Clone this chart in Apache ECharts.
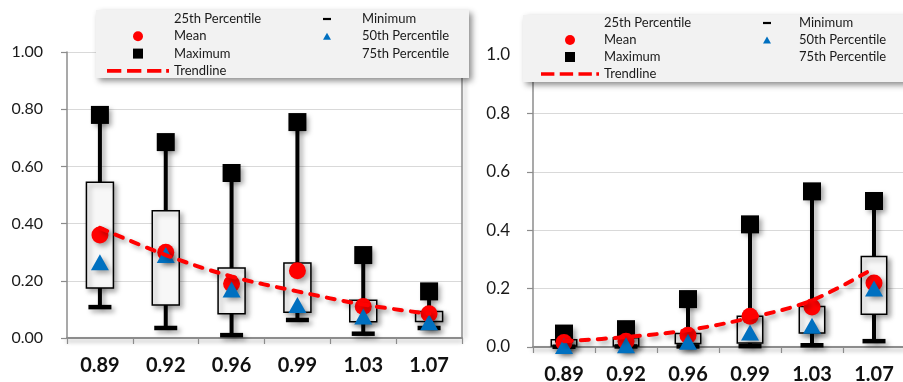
<!DOCTYPE html>
<html>
<head>
<meta charset="utf-8">
<script src="https://cdn.jsdelivr.net/npm/echarts@6/dist/echarts.min.js"></script>
<style>
  html, body { margin: 0; padding: 0; background: #fff; }
  #chart { width: 903px; height: 382px; }
</style>
</head>
<body>
<div id="chart"></div>
<script>
// Shared category labels
const categories = ['0.89', '0.92', '0.96', '0.99', '1.03', '1.07'];

// Left panel statistics
const minA   = [0.108, 0.035, 0.010, 0.063, 0.015, 0.035];
const q1A    = [0.175, 0.115, 0.085, 0.090, 0.057, 0.058];
const medA   = [0.265, 0.290, 0.170, 0.115, 0.075, 0.055];
const q3A    = [0.545, 0.445, 0.245, 0.262, 0.132, 0.093];
const maxA   = [0.780, 0.685, 0.577, 0.755, 0.290, 0.163];
const meanA  = [0.360, 0.300, 0.190, 0.235, 0.110, 0.085];
const trendA = [0.385, 0.290, 0.215, 0.163, 0.117, 0.085];

// Right panel statistics
const minB   = [0.001, 0.002, 0.002, 0.003, 0.006, 0.020];
const q1B    = [0.003, 0.003, 0.012, 0.014, 0.048, 0.112];
const medB   = [0.003, 0.006, 0.018, 0.050, 0.073, 0.200];
const q3B    = [0.025, 0.032, 0.046, 0.105, 0.139, 0.310];
const maxB   = [0.046, 0.061, 0.164, 0.420, 0.533, 0.500];
const meanB  = [0.015, 0.020, 0.040, 0.105, 0.137, 0.219];
const trendB = [0.020, 0.034, 0.058, 0.100, 0.160, 0.270];

const FONT = 'Lato, "Open Sans", sans-serif';
const RED = '#ff0000';
const BLUE = '#0070c0';
const SHADOW = { shadowColor: 'rgba(0,0,0,0.35)', shadowBlur: 5, shadowOffsetX: 3, shadowOffsetY: 3 };

function rows(a, b) { return a.map((v, i) => [i, v, b[i]]); }

// Whisker: vertical stem from minimum to maximum
function renderWhisker(params, api) {
  const lo = api.coord([api.value(0), api.value(1)]);
  const hi = api.coord([api.value(0), api.value(2)]);
  return {
    type: 'line',
    shape: { x1: lo[0], y1: lo[1], x2: hi[0], y2: hi[1] },
    style: Object.assign({ stroke: '#000', lineWidth: 4 }, SHADOW)
  };
}
// Box: interquartile range
function renderBox(params, api) {
  const lo = api.coord([api.value(0), api.value(1)]);
  const hi = api.coord([api.value(0), api.value(2)]);
  const w = api.size([1, 0])[0] * 0.41;
  return {
    type: 'rect',
    shape: { x: lo[0] - w / 2, y: hi[1], width: w, height: lo[1] - hi[1] },
    style: Object.assign({ fill: '#f7f7f7', stroke: '#000', lineWidth: 1.5 }, SHADOW)
  };
}

function marker(color) {
  return Object.assign({ color: color, opacity: 1 }, SHADOW);
}

function panelSeries(idx, mn, q1, md, q3, mx, mean, trend) {
  const y = idx === 0 ? 0 : 2;
  return [
    { name: '75th Percentile', type: 'custom', xAxisIndex: idx, yAxisIndex: y,
      renderItem: renderWhisker, data: rows(mn, mx), itemStyle: { color: '#000' } },
    { name: '25th Percentile', type: 'custom', xAxisIndex: idx, yAxisIndex: y,
      renderItem: renderBox, data: rows(q1, q3), itemStyle: { color: '#000' } },
    { name: 'Minimum', type: 'scatter', xAxisIndex: idx, yAxisIndex: y,
      symbol: 'rect', symbolSize: [23, 4.5], data: mn, itemStyle: marker('#000') },
    { name: 'Maximum', type: 'scatter', xAxisIndex: idx, yAxisIndex: y,
      symbol: 'rect', symbolSize: 18, data: mx, itemStyle: marker('#000') },
    { name: 'Mean', type: 'scatter', xAxisIndex: idx, yAxisIndex: y,
      symbol: 'circle', symbolSize: 17, data: mean, itemStyle: marker(RED) },
    { name: '50th Percentile', type: 'scatter', xAxisIndex: idx, yAxisIndex: y,
      symbol: 'triangle', symbolSize: [18, 16], data: md, itemStyle: marker(BLUE) },
    { name: 'Trendline', type: 'line', xAxisIndex: idx, yAxisIndex: y,
      data: trend, smooth: 0.35, symbol: 'none', z: 3,
      itemStyle: { color: RED },
      lineStyle: Object.assign({ color: RED, width: 4, type: [8, 9], cap: 'round' }, SHADOW) }
  ];
}

const DASH_ICON = 'path://M0,0h15v4h-15z M21,0h15v4h-15z M42,0h15v4h-15z M62,0h3v4h-3z';
const MIN_ICON = 'path://M0,0h8v2.2h-8z';
const SQUARE_ICON = 'path://M0,0h10v10h-10z';

function legendPair(col1Left, col1Width, col2Left, col2Pad, top, gap) {
  const text = { fontFamily: FONT, fontSize: 13, color: '#1a1a1a', lineHeight: 17 };
  return [
    { orient: 'vertical', left: col1Left, top: top, padding: 0, itemGap: gap,
      itemWidth: col1Width, itemHeight: 10, selectedMode: false, textStyle: text,
      data: [
        { name: '25th Percentile', icon: 'none' },
        { name: 'Mean' },
        { name: 'Maximum', icon: SQUARE_ICON },
        { name: 'Trendline', icon: DASH_ICON }
      ] },
    { orient: 'vertical', left: col2Left, top: top, padding: 0, itemGap: gap,
      itemWidth: 8, itemHeight: 7, selectedMode: false,
      textStyle: Object.assign({ padding: [0, 0, 0, col2Pad] }, text),
      data: [
        { name: 'Minimum', icon: MIN_ICON },
        { name: '50th Percentile' },
        { name: '75th Percentile', icon: 'none' }
      ] }
  ];
}

const axisGrey = '#8c8c8c';

function yAxisBase(gridIndex, digits, fontSize, margin) {
  return {
    type: 'value', gridIndex: gridIndex, min: 0, max: 1, interval: 0.2,
    axisLine: { show: true, lineStyle: { color: axisGrey, width: 1.5 } },
    axisTick: { show: true, length: 6, lineStyle: { color: axisGrey, width: 1.2 } },
    axisLabel: { margin: margin, fontFamily: FONT, fontSize: fontSize, color: '#1a1a1a',
      formatter: v => v.toFixed(digits) },
    splitLine: { show: true, lineStyle: { color: '#d9d9d9', width: 1.2 } }
  };
}
function xAxisBase(gridIndex, margin) {
  return {
    type: 'category', gridIndex: gridIndex, data: categories, boundaryGap: true,
    axisLine: { show: true, lineStyle: { color: axisGrey, width: 2, shadowColor: 'rgba(0,0,0,0.3)', shadowBlur: 4, shadowOffsetY: 3 } },
    axisTick: { show: true, length: 6, alignWithLabel: false, lineStyle: { color: axisGrey, width: 1.2 } },
    axisLabel: { margin: margin, fontFamily: FONT, fontSize: 20, fontWeight: 'bold', color: '#111' },
    splitLine: { show: false }
  };
}

const option = {
  animation: false,
  backgroundColor: '#ffffff',
  grid: [
    { left: 67, top: 52, width: 395, height: 286, containLabel: false, outerBoundsMode: 'none' },
    { left: 533, top: 55, width: 372, height: 292, containLabel: false, outerBoundsMode: 'none' }
  ],
  xAxis: [ xAxisBase(0, 18), xAxisBase(1, 18) ],
  yAxis: [
    yAxisBase(0, 2, 16, 24),
    { type: 'value', gridIndex: 0, position: 'right', min: 0, max: 1,
      axisLine: { show: true, lineStyle: { color: axisGrey, width: 1.5, shadowColor: 'rgba(0,0,0,0.3)', shadowBlur: 4, shadowOffsetX: 3 } },
      axisTick: { show: false }, axisLabel: { show: false }, splitLine: { show: false } },
    yAxisBase(1, 1, 17, 23)
  ],
  legend: [].concat(
    legendPair(107, 62, 323, 26, 10.5, 0.3),
    legendPair(541, 58, 763, 23, 14.5, 0)
  ),
  graphic: [
    { type: 'rect', z: 3, shape: { x: 96, y: 10, width: 373, height: 68 },
      style: { fill: '#f2f2f2', shadowColor: 'rgba(0,0,0,0.45)', shadowBlur: 6, shadowOffsetX: 3, shadowOffsetY: 3 } },
    { type: 'rect', z: 3, shape: { x: 523, y: 15, width: 400, height: 67 },
      style: { fill: '#f2f2f2', shadowColor: 'rgba(0,0,0,0.45)', shadowBlur: 6, shadowOffsetX: 3, shadowOffsetY: 3 } }
  ],
  series: [].concat(
    panelSeries(0, minA, q1A, medA, q3A, maxA, meanA, trendA),
    panelSeries(1, minB, q1B, medB, q3B, maxB, meanB, trendB)
  )
};

const chart = echarts.init(document.getElementById('chart'), null, { renderer: 'canvas' });
chart.setOption(option);
</script>
</body>
</html>
